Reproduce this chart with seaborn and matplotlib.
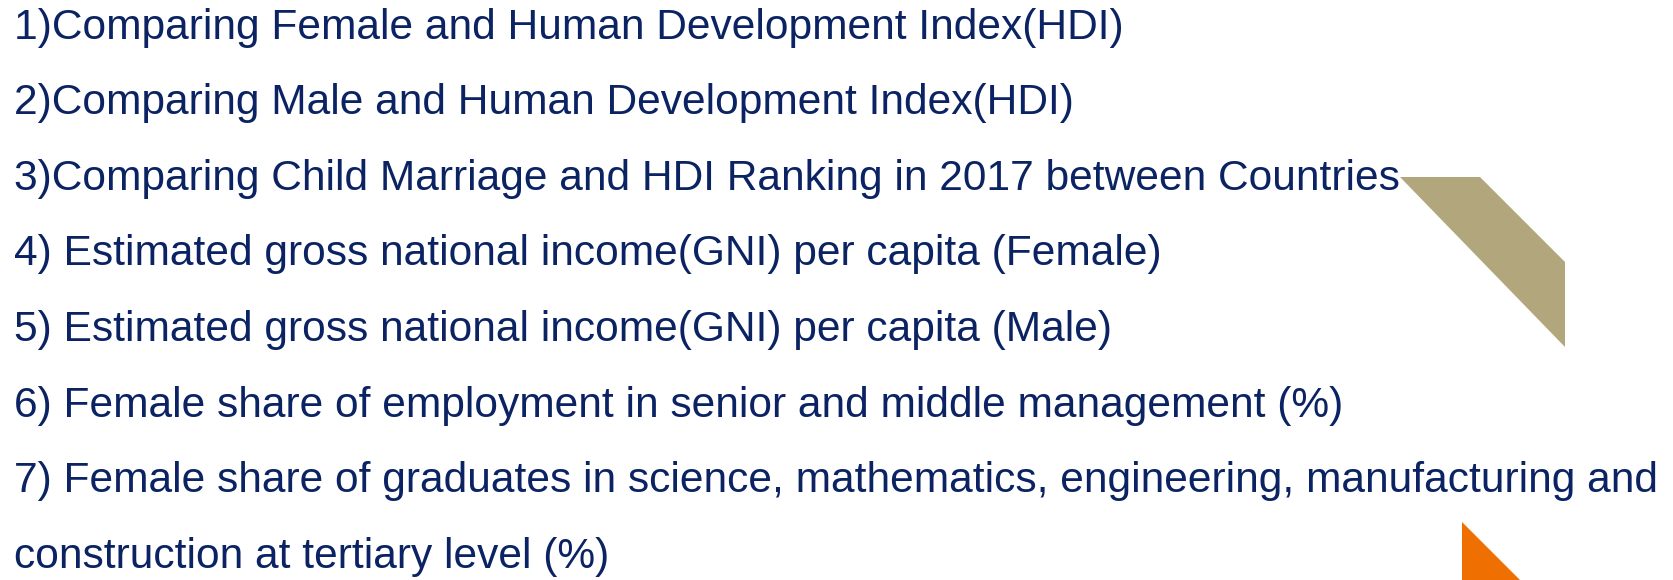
import matplotlib
matplotlib.use("Agg")
import matplotlib.pyplot as plt
import seaborn as sns
from matplotlib.patches import Polygon

# slide contents
items = [
    "1)Comparing Female and Human Development Index(HDI)",
    "2)Comparing Male and Human Development Index(HDI)",
    "3)Comparing Child Marriage and HDI Ranking in 2017 between Countries",
    "4) Estimated gross national income(GNI) per capita (Female)",
    "5) Estimated gross national income(GNI) per capita (Male)",
    "6) Female share of employment in senior and middle management (%)",
    "7) Female share of graduates in science, mathematics, engineering, manufacturing and",
    "construction at tertiary level (%)",
]

text_color = "#0b2363"
tan = "#b2a67c"
orange = "#ef6f00"

sns.set_theme(style="white")
plt.rcParams["font.family"] = ["Liberation Sans", "DejaVu Sans"]

W, H = 1673, 580
fig = plt.figure(figsize=(W / 100, H / 100), dpi=100)
ax = fig.add_axes([0, 0, 1, 1])
ax.set_xlim(0, W)
ax.set_ylim(H, 0)
ax.axis("off")

# decorative shapes
ax.add_patch(Polygon([(1400, 177), (1480, 177), (1565, 262), (1565, 347)],
                     closed=True, color=tan, lw=0, zorder=1))
ax.add_patch(Polygon([(1462, 522), (1462, 585), (1525, 585)],
                     closed=True, color=orange, lw=0, zorder=1))

for i, line in enumerate(items):
    ax.text(14, 38.5 + 75.6 * i, line, fontsize=30.6, color=text_color,
            ha="left", va="baseline", zorder=2)

fig.savefig("out.png", dpi=100, facecolor="white")
